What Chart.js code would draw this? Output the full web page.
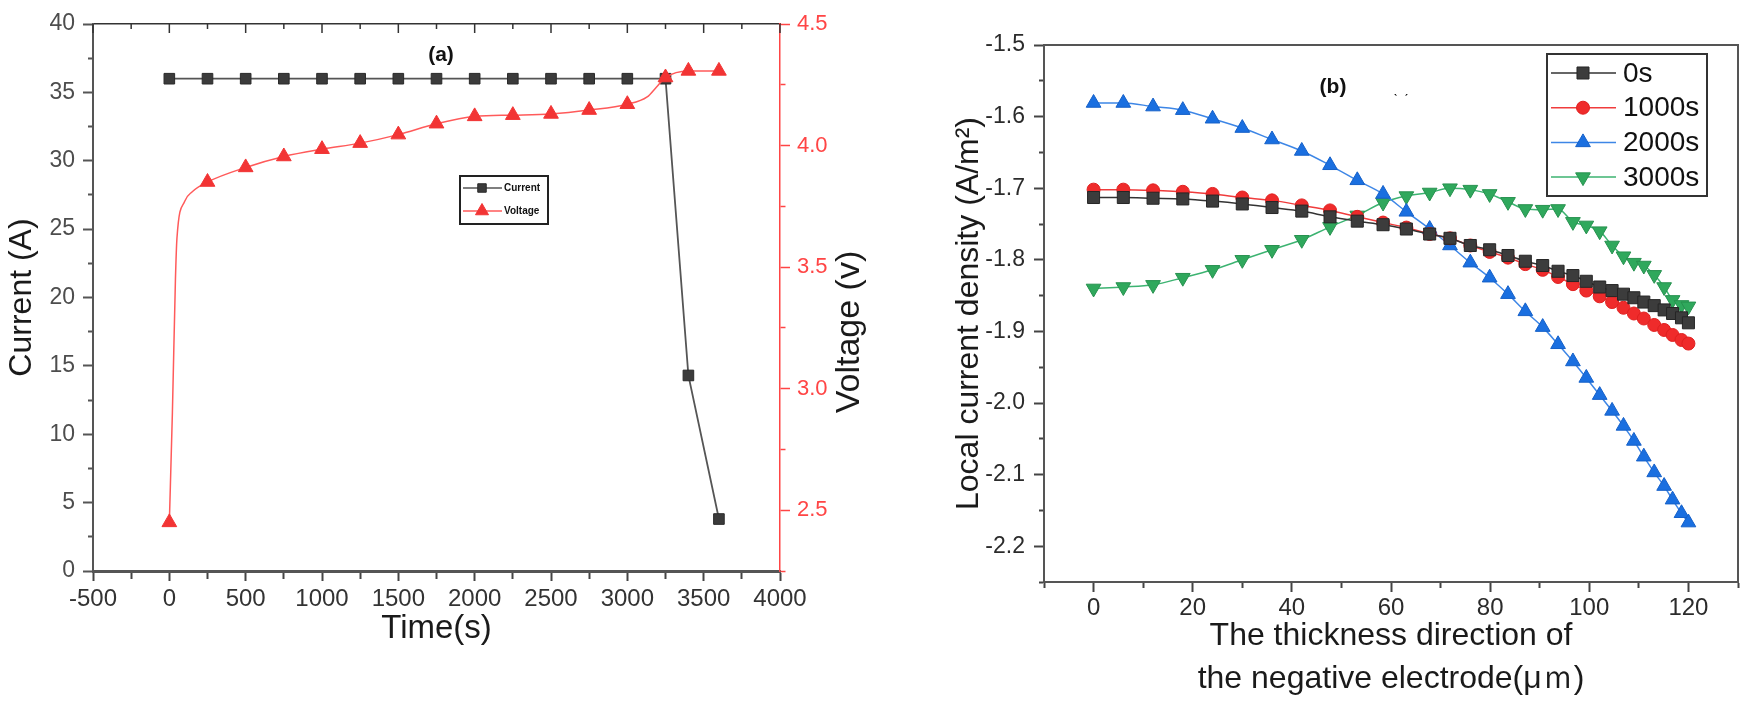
<!DOCTYPE html>
<html>
<head>
<meta charset="utf-8">
<script src="https://cdn.jsdelivr.net/npm/chart.js@4.4.1/dist/chart.umd.min.js"></script>
<style>
html,body{margin:0;padding:0;background:#fff;}
#wrap{position:relative;width:1751px;height:712px;overflow:hidden;background:#fff;}
#ca{position:absolute;left:0;top:0;width:900px;height:712px;}
#cb{position:absolute;left:900px;top:0;width:851px;height:712px;}
</style>
</head>
<body>
<div id="wrap">
  <div id="ca"><canvas id="chartA"></canvas></div>
  <div id="cb"><canvas id="chartB"></canvas></div>
</div>
<script>
const FF = 'Arial, "Liberation Sans", Helvetica, sans-serif';

// ---------- Panel (a) data ----------
const timeCurrent = [0, 250, 500, 750, 1000, 1250, 1500, 1750, 2000, 2250, 2500, 2750, 3000, 3250, 3400, 3600];
const current     = [36, 36, 36, 36, 36, 36, 36, 36, 36, 36, 36, 36, 36, 36, 14.3, 3.8];

const timeVoltage = [0, 20, 40, 50, 100, 150, 250, 500, 750, 1000, 1250, 1500, 1750, 2000, 2250, 2500, 2750, 3000, 3130, 3190, 3250, 3400, 3600];
const voltage     = [2.45, 2.9, 3.45, 3.62, 3.77, 3.81, 3.85, 3.91, 3.955, 3.985, 4.01, 4.045, 4.09, 4.12, 4.125, 4.13, 4.146, 4.17, 4.20, 4.24, 4.28, 4.307, 4.307];
const voltageMarkedTimes = [0, 250, 500, 750, 1000, 1250, 1500, 1750, 2000, 2250, 2500, 2750, 3000, 3250, 3400, 3600];

const timeTickLabels    = [-500, 0, 500, 1000, 1500, 2000, 2500, 3000, 3500, 4000];
const currentTickLabels = [0, 5, 10, 15, 20, 25, 30, 35, 40];
const voltageTickLabels = [2.5, 3.0, 3.5, 4.0, 4.5];

// ---------- Panel (b) data ----------
const thickness = [0, 6, 12, 18, 24, 30, 36, 42, 47.7, 53.2, 58.4, 63.1, 67.8, 71.9, 76, 79.9, 83.6, 87.1, 90.6, 93.7, 96.7, 99.4, 102.1, 104.6, 106.9, 109, 111, 113.1, 115.1, 116.8, 118.6, 120];
const density0s    = [-1.713, -1.713, -1.714, -1.715, -1.718, -1.722, -1.727, -1.732, -1.740, -1.746, -1.751, -1.757, -1.764, -1.770, -1.780, -1.786, -1.794, -1.802, -1.808, -1.816, -1.822, -1.830, -1.838, -1.843, -1.848, -1.853, -1.859, -1.864, -1.870, -1.875, -1.881, -1.888];
const density1000s = [-1.702, -1.702, -1.703, -1.705, -1.708, -1.713, -1.717, -1.724, -1.731, -1.740, -1.748, -1.755, -1.764, -1.770, -1.780, -1.789, -1.797, -1.806, -1.814, -1.824, -1.834, -1.843, -1.851, -1.859, -1.867, -1.875, -1.882, -1.891, -1.898, -1.905, -1.912, -1.917];
const density2000s = [-1.581, -1.581, -1.586, -1.591, -1.603, -1.616, -1.632, -1.648, -1.668, -1.689, -1.708, -1.733, -1.757, -1.780, -1.804, -1.825, -1.848, -1.872, -1.894, -1.918, -1.942, -1.965, -1.989, -2.011, -2.032, -2.053, -2.075, -2.097, -2.116, -2.135, -2.154, -2.167];
const density3000s = [-1.840, -1.838, -1.835, -1.825, -1.814, -1.800, -1.786, -1.772, -1.754, -1.738, -1.720, -1.711, -1.706, -1.700, -1.702, -1.708, -1.719, -1.729, -1.730, -1.729, -1.747, -1.752, -1.760, -1.780, -1.795, -1.804, -1.808, -1.821, -1.838, -1.856, -1.863, -1.865];
const seriesNamesB = ['0s', '1000s', '2000s', '3000s'];

const thicknessTickLabels = [0, 20, 40, 60, 80, 100, 120];
const densityTickLabels   = [-2.2, -2.1, -2.0, -1.9, -1.8, -1.7, -1.6, -1.5];

// ---------- helpers ----------
const near = (a, b) => Math.abs(a - b) < 1e-6;
const inList = (list, v) => list.some(l => near(l, v));
const pts = (xs, ys) => xs.map((x, i) => ({x: x, y: ys[i]}));

function drawMarker(ctx, style, r, rot, x, y, fill, stroke, bw) {
  ctx.save();
  ctx.fillStyle = fill; ctx.strokeStyle = stroke; ctx.lineWidth = bw || 1;
  ctx.beginPath();
  if (style === 'rect') { const s = r * Math.SQRT1_2; ctx.rect(x - s, y - s, 2 * s, 2 * s); }
  else if (style === 'circle') { ctx.arc(x, y, r, 0, Math.PI * 2); }
  else {
    let a = (rot || 0) * Math.PI / 180;
    ctx.moveTo(x + Math.sin(a) * r, y - Math.cos(a) * r);
    for (let k = 0; k < 2; k++) { a += 2 * Math.PI / 3; ctx.lineTo(x + Math.sin(a) * r, y - Math.cos(a) * r); }
    ctx.closePath();
  }
  ctx.fill(); if (bw) ctx.stroke();
  ctx.restore();
}

Chart.defaults.font.family = FF;
Chart.defaults.color = '#333';

// ---------- Chart (a) ----------
const decorA = {
  id: 'decorA',
  afterDraw(chart) {
    const ctx = chart.ctx, ca = chart.chartArea;
    ctx.save();
    // inward ticks on the top frame, taken from the bottom time scale
    const sx = chart.scales.x;
    ctx.strokeStyle = '#333'; ctx.lineWidth = 1.5;
    sx.ticks.forEach(t => {
      const px = sx.getPixelForValue(t.value);
      const len = inList(timeTickLabels, t.value) ? 9 : 5;
      ctx.beginPath(); ctx.moveTo(px, ca.top); ctx.lineTo(px, ca.top + len); ctx.stroke();
    });
    // panel tag
    ctx.fillStyle = '#111';
    ctx.font = 'bold 21px ' + FF;
    ctx.textAlign = 'center'; ctx.textBaseline = 'middle';
    ctx.fillText('(a)', ca.left + 348, ca.top + 31);
    // right axis title (reads bottom-to-top)
    ctx.save();
    ctx.translate(ca.right + 70, ca.top + 308);
    ctx.rotate(-Math.PI / 2);
    ctx.font = '34px ' + FF;
    ctx.fillStyle = '#1a1a1a';
    ctx.fillText('Voltage (v)', 0, 0);
    ctx.restore();
    // legend box
    const bx = ca.left + 367, by = ca.top + 152, bw = 88, bh = 48;
    ctx.fillStyle = '#fff'; ctx.fillRect(bx, by, bw, bh);
    ctx.strokeStyle = '#222'; ctx.lineWidth = 2; ctx.strokeRect(bx, by, bw, bh);
    const items = [chart.data.datasets[1], chart.data.datasets[0]];
    items.forEach((ds, i) => {
      const y = by + 12 + i * 23;
      ctx.strokeStyle = ds.borderColor; ctx.lineWidth = 1.5;
      ctx.beginPath(); ctx.moveTo(bx + 3, y); ctx.lineTo(bx + 42, y); ctx.stroke();
      drawMarker(ctx, ds.pointStyle, ds.pointStyle === 'rect' ? 6 : 7.5, 0, bx + 22, y, ds.backgroundColor, ds.pointBorderColor, 1);
      ctx.fillStyle = '#111'; ctx.font = 'bold 10px ' + FF;
      ctx.textAlign = 'left'; ctx.textBaseline = 'middle';
      ctx.fillText(ds.label, bx + 44, y);
    });
    ctx.restore();
  }
};

new Chart(document.getElementById('chartA'), {
  type: 'line',
  data: {
    datasets: [
      {
        label: 'Voltage', data: pts(timeVoltage, voltage), xAxisID: 'x', yAxisID: 'yV',
        borderColor: '#ff5a5a', backgroundColor: '#f23434', pointBorderColor: '#f23434',
        borderWidth: 1.5, pointStyle: 'triangle', pointBorderWidth: 1,
        pointRadius: timeVoltage.map(t => voltageMarkedTimes.includes(t) ? 8.5 : 0),
        cubicInterpolationMode: 'monotone', fill: false
      },
      {
        label: 'Current', data: pts(timeCurrent, current), xAxisID: 'x', yAxisID: 'y',
        borderColor: '#555', backgroundColor: '#3b3b3b', pointBorderColor: '#2a2a2a',
        borderWidth: 1.8, pointStyle: 'rect', pointBorderWidth: 1, pointRadius: 7.5,
        tension: 0, fill: false
      }
    ]
  },
  options: {
    responsive: true, maintainAspectRatio: false, animation: false,
    layout: {padding: {left: 0, right: 0, top: 24, bottom: 0}},
    plugins: {legend: {display: false}, tooltip: {enabled: false}, title: {display: false}},
    events: [],
    scales: {
      x: {
        type: 'linear', position: 'bottom', min: -500, max: 4000,
        ticks: {stepSize: 250, autoSkip: false, maxRotation: 0, padding: 4, color: '#333',
          font: {size: 24}, callback: v => inList(timeTickLabels, v) ? String(v) : ''},
        grid: {drawOnChartArea: false, tickLength: 10, tickWidth: 2, tickColor: '#444',
          tickBorderDash: c => inList(timeTickLabels, c.tick.value) ? [] : [6, 100]},
        border: {display: true, color: '#555', width: 3},
        title: {display: true, text: 'Time(s)', color: '#1a1a1a', font: {size: 33}, padding: {top: 0, bottom: 63}},
        afterFit: s => { s.height = 141; }
      },
      x2: {
        type: 'linear', position: 'top', min: -500, max: 4000,
        ticks: {display: false}, grid: {drawOnChartArea: false, drawTicks: false},
        border: {display: true, color: '#333', width: 1.5},
        afterFit: s => { s.height = 0; }
      },
      y: {
        type: 'linear', position: 'left', min: 0, max: 40,
        ticks: {stepSize: 2.5, autoSkip: false, padding: 8, color: '#4d4d4d', font: {size: 23},
          callback: v => inList(currentTickLabels, v) ? String(v) : ''},
        grid: {drawOnChartArea: false, tickLength: 10, tickWidth: 2, tickColor: '#555',
          tickBorderDash: c => inList(currentTickLabels, c.tick.value) ? [] : [0, 5, 5, 100]},
        border: {display: true, color: '#555', width: 2},
        title: {display: true, text: 'Current (A)', color: '#1a1a1a', font: {size: 32}, padding: {top: 3, bottom: 0}},
        afterFit: s => { s.width = 93; }
      },
      yV: {
        type: 'linear', position: 'right', min: 2.25, max: 4.5,
        ticks: {stepSize: 0.25, autoSkip: false, padding: 7, color: '#ff4545', font: {size: 22},
          callback: v => inList(voltageTickLabels, v) ? v.toFixed(1) : ''},
        grid: {drawOnChartArea: false, tickLength: 10, tickWidth: 1.5, tickColor: '#ff4545',
          tickBorderDash: c => inList(voltageTickLabels, c.tick.value) ? [] : [5, 100]},
        border: {display: true, color: '#ff4545', width: 1.5},
        afterFit: s => { s.width = 120; }
      }
    }
  },
  plugins: [decorA]
});

// ---------- Chart (b) ----------
const decorB = {
  id: 'decorB',
  afterDraw(chart) {
    const ctx = chart.ctx, ca = chart.chartArea;
    ctx.save();
    ctx.fillStyle = '#111';
    ctx.font = 'bold 21px ' + FF;
    ctx.textAlign = 'center'; ctx.textBaseline = 'middle';
    ctx.fillText('(b)', ca.left + 289, ca.top + 42);
    ctx.font = '12px ' + FF;
    ctx.fillText('\u02CB  \u02CA', ca.left + 357, ca.top + 56);
    // legend
    const bx = ca.right - 191, by = ca.top + 9, bw = 160, bh = 142;
    ctx.fillStyle = '#fff'; ctx.fillRect(bx, by, bw, bh);
    ctx.strokeStyle = '#333'; ctx.lineWidth = 2; ctx.strokeRect(bx, by, bw, bh);
    chart.data.datasets.forEach((ds, i) => {
      const y = by + 19 + i * 34.7;
      ctx.strokeStyle = ds.borderColor; ctx.lineWidth = 1.5;
      ctx.beginPath(); ctx.moveTo(bx + 4, y); ctx.lineTo(bx + 69, y); ctx.stroke();
      drawMarker(ctx, ds.pointStyle, ds.pointRadius, ds.pointRotation || 0, bx + 36, y, ds.backgroundColor, ds.pointBorderColor, 1);
      ctx.fillStyle = '#111'; ctx.font = '28px ' + FF;
      ctx.textAlign = 'left'; ctx.textBaseline = 'middle';
      ctx.fillText(ds.label, bx + 76, y + 1);
    });
    ctx.restore();
  }
};

const bStyles = [
  {line: '#333333', fill: '#3c3c3c', stroke: '#262626', style: 'rect', r: 8.5, rot: 0},
  {line: '#f03c3c', fill: '#ef2b2b', stroke: '#e02020', style: 'circle', r: 6.5, rot: 0},
  {line: '#3d86e6', fill: '#1a6fe0', stroke: '#1560c8', style: 'triangle', r: 8.5, rot: 0},
  {line: '#3cb371', fill: '#2fa85c', stroke: '#27914f', style: 'triangle', r: 8.5, rot: 180}
];
const densities = [density0s, density1000s, density2000s, density3000s];

new Chart(document.getElementById('chartB'), {
  type: 'line',
  data: {
    datasets: densities.map((d, i) => ({
      label: seriesNamesB[i], data: pts(thickness, d), xAxisID: 'x', yAxisID: 'y',
      borderColor: bStyles[i].line, backgroundColor: bStyles[i].fill, pointBorderColor: bStyles[i].stroke,
      borderWidth: 1.5, pointStyle: bStyles[i].style, pointRadius: bStyles[i].r, pointRotation: bStyles[i].rot,
      pointBorderWidth: 1, cubicInterpolationMode: 'monotone', fill: false
    }))
  },
  options: {
    responsive: true, maintainAspectRatio: false, animation: false,
    layout: {padding: {left: 0, right: 13, top: 45, bottom: 0}},
    plugins: {legend: {display: false}, tooltip: {enabled: false}, title: {display: false}},
    events: [],
    scales: {
      x: {
        type: 'linear', position: 'bottom', min: -10, max: 130,
        ticks: {stepSize: 10, autoSkip: false, maxRotation: 0, padding: 2, color: '#2b2b2b', font: {size: 24},
          callback: v => inList(thicknessTickLabels, v) ? String(v) : ''},
        grid: {drawOnChartArea: false, tickLength: 10, tickWidth: 2, tickColor: '#444',
          tickBorderDash: c => inList(thicknessTickLabels, c.tick.value) ? [] : [5, 100]},
        border: {display: true, color: '#555', width: 2},
        title: {display: true, text: ['The thickness direction of', 'the negative electrode(\u03BC\uFF4D)'],
          color: '#1a1a1a', font: {size: 32, lineHeight: 1.35}, padding: {top: 0, bottom: 11}},
        afterFit: s => { s.height = 130; }
      },
      x2: {
        type: 'linear', position: 'top', min: -10, max: 130,
        ticks: {display: false}, grid: {drawOnChartArea: false, drawTicks: false},
        border: {display: true, color: '#555', width: 2},
        afterFit: s => { s.height = 0; }
      },
      y: {
        type: 'linear', position: 'left', min: -2.25, max: -1.5,
        ticks: {stepSize: 0.05, autoSkip: false, padding: 9, color: '#2b2b2b', font: {size: 23},
          callback: v => inList(densityTickLabels, v) ? v.toFixed(1) : ''},
        grid: {drawOnChartArea: false, tickLength: 10, tickWidth: 2, tickColor: '#444',
          tickBorderDash: c => inList(densityTickLabels, c.tick.value) ? [] : [0, 5, 5, 100]},
        border: {display: true, color: '#555', width: 2},
        title: {display: true, text: 'Local current density (A/m\u00B2)', color: '#1a1a1a', font: {size: 32}, padding: {top: 50, bottom: 0}},
        afterFit: s => { s.width = 144; }
      },
      y2: {
        type: 'linear', position: 'right', min: -2.25, max: -1.5,
        ticks: {display: false}, grid: {drawOnChartArea: false, drawTicks: false},
        border: {display: true, color: '#555', width: 2},
        afterFit: s => { s.width = 0; }
      }
    }
  },
  plugins: [decorB]
});
</script>
</body>
</html>
